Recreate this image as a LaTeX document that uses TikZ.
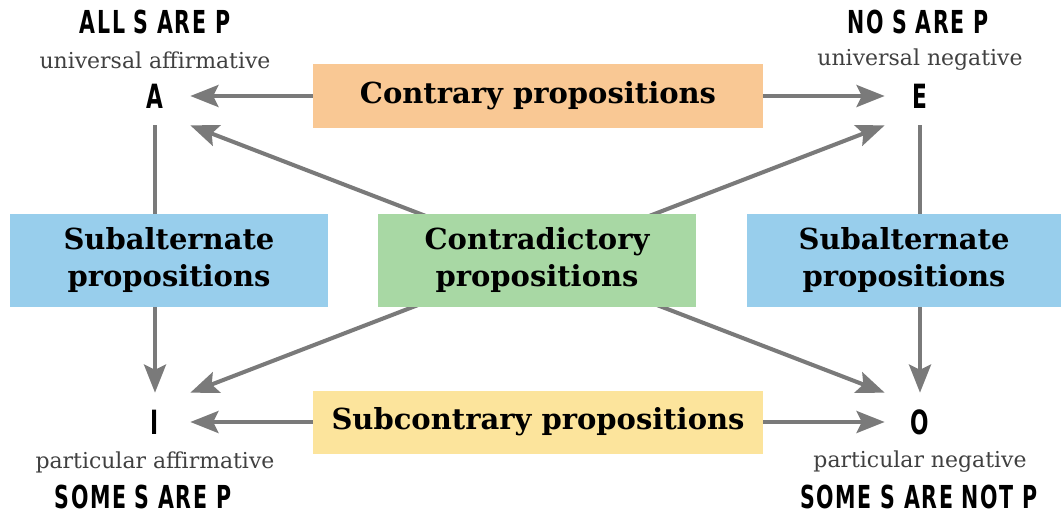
\documentclass[tikz,border=0pt]{standalone}
\usepackage{fontspec}
\setmainfont{DejaVu Serif}
\newfontfamily\headfont{DejaVu Sans}[FakeStretch=0.65,LetterSpace=5]
\usetikzlibrary{arrows.meta,backgrounds}
\definecolor{peach}{RGB}{249,200,148}
\definecolor{butter}{RGB}{252,228,156}
\definecolor{sky}{RGB}{152,206,236}
\definecolor{sage}{RGB}{168,216,164}
\definecolor{arrgray}{RGB}{122,122,122}

\begin{document}
\begin{tikzpicture}[x=0.02cm, y=-0.02cm,
  head/.style={font=\headfont\bfseries\fontsize{18}{20}\selectfont, inner sep=0pt},
  kind/.style={font=\fontsize{12.5}{14}\selectfont, text=black!75, inner sep=0pt},
  corner/.style={font=\headfont\bfseries\fontsize{19}{21}\selectfont, minimum width=1.4cm,
                 minimum height=1.16cm, inner sep=0pt},
  propbox/.style={font=\bfseries\fontsize{16.5}{21}\selectfont, align=center, inner sep=0pt},
  arr/.style={-{Stealth[length=16pt, width=12.5pt, inset=3pt]}, line width=2.3pt, color=arrgray},
  arrtwo/.style={{Stealth[length=16pt, width=12.5pt, inset=3pt]}-{Stealth[length=16pt, width=12.5pt, inset=3pt]},
                 line width=2.3pt, color=arrgray}]
\useasboundingbox (0,0) rectangle (1061,515);
% corner labels
\node[head] (allSP) at (155,22) {ALL S ARE P};
\node[kind] (uAff) at (155,60) {universal affirmative};
\node[corner] (A) at (155,96) {A};
\node[head] (noSP) at (918,22) {NO S ARE P};
\node[kind] (uNeg) at (920,60) {universal negative};
\node[corner] (E) at (920,96) {E};
\node[corner] (I) at (155,422) {I};
\node[kind] (pAff) at (155,462) {particular affirmative};
\node[head] (someSP) at (143,497) {SOME S ARE P};
\node[corner] (O) at (920,422) {O};
\node[kind] (pNeg) at (920,462) {particular negative};
\node[head] (someSnP) at (919,497) {SOME S ARE NOT P};
% boxes
\node[propbox, fill=peach, minimum width=9cm, minimum height=1.28cm] (contrary) at (538,96) {Contrary propositions};
\node[propbox, fill=butter, minimum width=9cm, minimum height=1.26cm] (subcontrary) at (538,422) {Subcontrary propositions};
\node[propbox, fill=sky, minimum width=6.36cm, minimum height=1.86cm] (subL) at (169,260) {Subalternate\\propositions};
\node[propbox, fill=sage, minimum width=6.38cm, minimum height=1.86cm] (contra) at (537,260) {Contradictory\\propositions};
\node[propbox, fill=sky, minimum width=6.28cm, minimum height=1.86cm] (subR) at (904,260) {Subalternate\\propositions};
% arrows
\begin{scope}[on background layer]
\draw[arr] (contrary.west) -- (A.east); \draw[arr] (contrary.east) -- (E.west);
\draw[arr] (subcontrary.west) -- (I.east); \draw[arr] (subcontrary.east) -- (O.west);
\draw[arr] (A.south) -- (I.north); \draw[arr] (E.south) -- (O.north);
\draw[arrtwo] (A.south east) -- (O.north west);
\draw[arrtwo] (I.north east) -- (E.south west);
\end{scope}
\end{tikzpicture}
\end{document}
